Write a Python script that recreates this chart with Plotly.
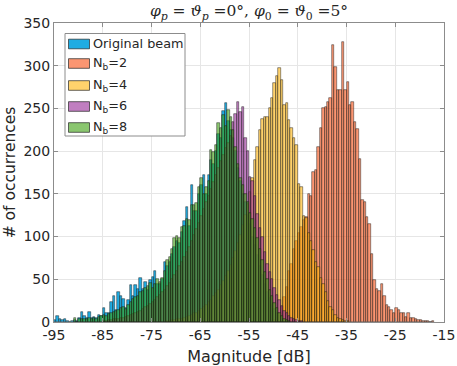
import plotly.graph_objects as go

bin_width = 0.5

orig_start = -95.0
orig_counts = [2, 7, 3, 2, 4, 1, 0, 1, 2, 1,
               5, 12, 7, 5, 12, 5, 6, 5, 8, 7,
               16, 11, 10, 23, 31, 14, 35, 31, 27, 16,
               26, 43, 31, 43, 39, 51, 39, 47, 37, 49,
               53, 60, 45, 44, 50, 70, 65, 70, 80, 88,
               95, 92, 105, 118, 135, 112, 160, 130, 130, 150,
               160, 172, 150, 172, 190, 185, 200, 220, 215, 247,
               256, 235, 225, 215, 200, 180, 165, 150, 140, 125,
               115, 100, 90, 78, 65, 55, 45, 35, 28, 20,
               15, 10, 7, 4, 2, 1]

nb2_start = -50.5
nb2_counts = [1, 2, 5, 10, 17, 29, 41, 60, 68, 86,
              95, 104, 111, 119, 123, 150, 148, 176, 178, 205,
              227, 250, 252, 258, 262, 324, 299, 271, 271, 328,
              271, 281, 254, 258, 234, 226, 191, 143, 141, 123,
              115, 80, 49, 39, 36, 45, 30, 20, 18, 14,
              10, 16, 14, 10, 11, 6, 10, 5, 5, 3,
              2, 2, 1, 1, 1, 0, 1]

nb4_start = -72.0
nb4_counts = [1, 1, 2, 2, 3, 3, 4, 5, 6, 7,
              8, 10, 11, 13, 15, 17, 20, 23, 26, 30,
              34, 38, 43, 48, 54, 60, 67, 75, 83, 92,
              102, 113, 125, 138, 152, 168, 190, 205, 225, 238,
              240, 240, 250, 262, 280, 288, 297, 283, 254, 256,
              236, 227, 215, 207, 162, 158, 124, 122, 104, 95,
              84, 70, 64, 52, 45, 35, 25, 18, 14, 8,
              5, 3, 2, 1, 1]

nb6_start = -85.0
nb6_counts = [1, 1, 2, 2, 3, 3, 4, 5, 5, 6,
              7, 8, 9, 10, 12, 13, 15, 17, 19, 21,
              23, 26, 29, 32, 35, 38, 42, 46, 50, 55,
              60, 65, 70, 76, 82, 88, 95, 102, 109, 116,
              124, 132, 140, 148, 156, 164, 172, 180, 188, 196,
              204, 210, 218, 234, 244, 258, 246, 252, 215, 200,
              170, 165, 148, 127, 110, 100, 82, 68, 58, 50,
              40, 32, 26, 19, 13, 10, 7, 5, 4, 2,
              1, 1]

nb8_start = -91.0
nb8_counts = [5, 0, 3, 4, 4, 3, 5, 3, 5, 4,
              6, 7, 8, 7, 9, 10, 12, 13, 14, 16,
              18, 15, 20, 24, 27, 29, 31, 35, 36, 40,
              42, 46, 40, 45, 50, 47, 52, 60, 72, 76,
              86, 98, 101, 98, 111, 112, 120, 119, 137, 137,
              139, 158, 168, 150, 158, 165, 201, 199, 207, 233,
              227, 242, 230, 248, 240, 225, 205, 185, 168, 160,
              150, 140, 128, 120, 110, 98, 85, 72, 58, 50,
              38, 30, 22, 16, 10, 7, 4, 2, 1]

series_names = ["Original beam", "N<sub>b</sub>=2", "N<sub>b</sub>=4",
                "N<sub>b</sub>=6", "N<sub>b</sub>=8"]
series_starts = [orig_start, nb2_start, nb4_start, nb6_start, nb8_start]
series_counts = [orig_counts, nb2_counts, nb4_counts, nb6_counts, nb8_counts]
series_colors = ["rgba(0,160,222,0.88)", "rgba(248,90,35,0.64)",
                 "rgba(255,180,10,0.6)", "rgba(150,40,150,0.6)",
                 "rgba(60,160,15,0.6)"]

x_ticks = [-95, -85, -75, -65, -55, -45, -35, -25, -15]
y_ticks = [0, 50, 100, 150, 200, 250, 300, 350]

W, H = 457, 366
ML, MR, MT, MB = 54, 13, 23, 44
PW, PH = W - ML - MR, H - MT - MB


def px_x(px):
    return (px - ML) / PW


def px_y(py):
    return (H - MB - py) / PH


fig = go.Figure()
for name, start, counts, color in zip(series_names, series_starts,
                                      series_counts, series_colors):
    centers = [start + bin_width * (i + 0.5) for i in range(len(counts))]
    fig.add_trace(go.Bar(
        x=centers, y=counts, width=bin_width, name=name, showlegend=False,
        marker=dict(color=color, line=dict(color="rgba(20,20,20,0.75)", width=0.6)),
    ))

# hand-placed legend (box, swatches, labels)
shapes = [dict(type="rect", xref="paper", yref="paper",
               x0=px_x(65), x1=px_x(185), y0=px_y(136), y1=px_y(33.5),
               fillcolor="white", line=dict(color="#8c8c8c", width=1), layer="above")]
annotations = []
entry_y = [44, 63.5, 85.5, 106.5, 127.5]
for name, color, yc in zip(series_names, series_colors, entry_y):
    shapes.append(dict(type="rect", xref="paper", yref="paper",
                       x0=px_x(68.5), x1=px_x(89.5), y0=px_y(yc + 4.8), y1=px_y(yc - 4.8),
                       fillcolor=color, line=dict(color="rgba(40,40,40,0.7)", width=1),
                       layer="above"))
    annotations.append(dict(xref="paper", yref="paper", x=px_x(90.5), y=px_y(yc),
                            xanchor="left", yanchor="middle", showarrow=False,
                            text=name, font=dict(family="DejaVu Sans", size=12.8,
                                                 color="#262626")))

title_txt = ("<i>φ</i><sub><i>p</i></sub> = <i>ϑ</i><sub><i>p</i></sub> =0°, "
             "<i>φ</i><sub>0</sub> = <i>ϑ</i><sub>0</sub> =5°")

fig.update_layout(
    width=W, height=H,
    barmode="overlay", bargap=0,
    paper_bgcolor="white", plot_bgcolor="white",
    margin=dict(l=ML, r=MR, t=MT, b=MB),
    font=dict(family="DejaVu Sans", size=14, color="#262626"),
    title=dict(text=title_txt, x=249 / W, xanchor="center", y=1 - 11 / H, yanchor="middle",
               font=dict(family="DejaVu Serif", size=15.5, color="#262626")),
    showlegend=False,
    shapes=shapes,
    annotations=annotations,
    xaxis=dict(range=[-95, -15], tickvals=x_ticks, ticktext=[str(v) for v in x_ticks],
               showgrid=True, gridcolor="#e6e6e6", gridwidth=1,
               showline=True, linecolor="#8c8c8c", mirror="ticks",
               ticks="inside", ticklen=4, tickcolor="#8c8c8c",
               zeroline=False, automargin=False,
               title=dict(text="Magnitude [dB]", standoff=9,
                          font=dict(size=16))),
    yaxis=dict(range=[0, 350], tickvals=y_ticks,
               showgrid=True, gridcolor="#e6e6e6", gridwidth=1,
               showline=True, linecolor="#8c8c8c", mirror="ticks",
               ticks="inside", ticklen=4, tickcolor="#8c8c8c",
               zeroline=False, automargin=False,
               title=dict(text="# of occurrences", standoff=4,
                          font=dict(size=15.5))),
)

fig.write_html("out.html", config={"displayModeBar": False},
               post_script="document.body.style.margin='0px';document.body.style.padding='0px';")
